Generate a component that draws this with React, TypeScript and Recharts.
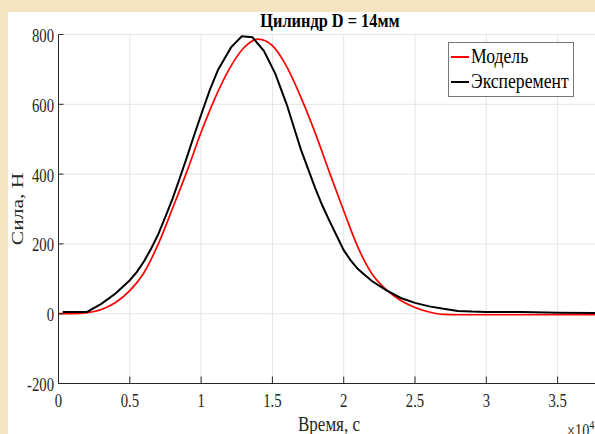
import { CartesianGrid, Legend, Line, LineChart, XAxis, YAxis } from "recharts";

// model curve (red)
const modelTime = [
  0, 0.1, 0.2, 0.3, 0.4, 0.5, 0.6, 0.7, 0.8, 0.9, 1.0, 1.1, 1.2, 1.3, 1.4,
  1.5, 1.6, 1.7, 1.8, 1.9, 2.0, 2.1, 2.2, 2.3, 2.4, 2.5, 2.6, 2.7, 2.8, 3.0,
  3.2, 3.4, 3.6, 3.8,
];
const modelForce = [
  0, 0, 3, 12, 32, 66, 118, 200, 302, 407, 520, 620, 703, 762, 787, 768, 708,
  620, 518, 405, 295, 190, 113, 68, 38, 18, 5, -2, -3, -3, -3, -3, -3, -3,
];

// experiment (black)
const expTime = [
  0.03, 0.2, 0.3, 0.4, 0.5, 0.55, 0.6, 0.65, 0.7, 0.75, 0.8, 0.85, 0.9, 0.95,
  1.0, 1.06, 1.12, 1.21, 1.285, 1.36, 1.44, 1.52, 1.6, 1.65, 1.7, 1.75, 1.8,
  1.85, 1.9, 1.95, 2.0, 2.05, 2.1, 2.15, 2.2, 2.3, 2.4, 2.5, 2.6, 2.7, 2.8,
  2.9, 3.0, 3.25, 3.5, 3.8,
];
const expForce = [
  5, 5, 28, 58, 96, 120, 150, 187, 228, 278, 330, 388, 448, 510, 570, 640, 700,
  763, 795, 792, 753, 688, 600, 535, 470, 415, 360, 310, 266, 224, 182, 152,
  128, 110, 93, 67, 45, 31, 21, 14, 8, 6, 5, 5, 3, 2,
];

const xTicks = [0, 0.5, 1, 1.5, 2, 2.5, 3, 3.5];
const yTicks = [-200, 0, 200, 400, 600, 800];

const modelData = modelTime.map((t, i) => ({ t, f: modelForce[i] }));
const expData = expTime.map((t, i) => ({ t, f: expForce[i] }));

const FONT = "'Liberation Serif', 'Times New Roman', serif";
const INK = "#262626";

function BottomTick({ x, y, payload }: any) {
  return (
    <g>
      <line x1={x} x2={x} y1={y} y2={y - 7} stroke={INK} />
      <text
        transform={`translate(${x},${y + 23.5}) scale(0.79,1)`}
        textAnchor="middle"
        fontFamily={FONT}
        fontSize={18.6}
        fill={INK}
      >
        {payload.value}
      </text>
    </g>
  );
}

function TopTick({ x, y }: any) {
  return <line x1={x} x2={x} y1={y} y2={y + 7} stroke={INK} />;
}

function LeftTick({ x, y, payload }: any) {
  return (
    <g>
      <line x1={x} x2={x + 5} y1={y} y2={y} stroke={INK} />
      <text
        transform={`translate(${x - 4.5},${y + 7.5}) scale(0.79,1)`}
        textAnchor="end"
        fontFamily={FONT}
        fontSize={18.6}
        fill={INK}
      >
        {payload.value}
      </text>
    </g>
  );
}

function LegendBox({ payload }: any) {
  return (
    <div
      style={{
        position: "relative",
        width: 126,
        height: 55,
        boxSizing: "border-box",
        border: "1px solid #777",
        background: "#fff",
        fontFamily: FONT,
      }}
    >
      {(payload || []).map((p: any, i: number) => (
        <div
          key={p.value}
          style={{ position: "absolute", left: 2, top: 3 + i * 24.5, height: 22, width: 122 }}
        >
          <div
            style={{
              position: "absolute",
              left: 0,
              top: 10,
              width: 18,
              height: 2,
              background: p.color,
            }}
          />
          <div
            style={{
              position: "absolute",
              left: 20,
              top: -2,
              fontSize: 20.5,
              lineHeight: "24px",
              color: "#000",
              whiteSpace: "nowrap",
              transform: "scaleX(0.86)",
              transformOrigin: "left center",
            }}
          >
            {p.value}
          </div>
        </div>
      ))}
    </div>
  );
}

export default function App() {
  return (
    <div
      style={{
        position: "absolute",
        left: 0,
        top: 0,
        width: 595,
        height: 434,
        overflow: "hidden",
        background: "#f6e3c1",
      }}
    >
      {/* white figure panel */}
      <div
        style={{
          position: "absolute",
          left: 8,
          top: 12,
          width: 600,
          height: 430,
          background: "#fff",
        }}
      />
      <div style={{ position: "absolute", left: 0, top: 0 }}>
        <LineChart
          width={628}
          height={442}
          margin={{ top: 34.5, right: 27.6, left: 8, bottom: 0 }}
        >
          <CartesianGrid stroke="#e4e4e4" strokeWidth={1} />
          <XAxis
            dataKey="t"
            type="number"
            domain={[0, 3.8]}
            ticks={xTicks}
            height={58.5}
            axisLine={{ stroke: INK }}
            tickLine={false}
            tickSize={0}
            tickMargin={0}
            tick={<BottomTick />}
            allowDataOverflow
          />
          <XAxis
            xAxisId="top"
            orientation="top"
            dataKey="t"
            type="number"
            domain={[0, 3.8]}
            ticks={xTicks}
            height={0}
            axisLine={{ stroke: INK }}
            tickLine={false}
            tickSize={0}
            tickMargin={0}
            tick={<TopTick />}
            allowDataOverflow
          />
          <YAxis
            type="number"
            domain={[-200, 800]}
            ticks={yTicks}
            width={50.5}
            axisLine={{ stroke: INK }}
            tickLine={false}
            tickSize={0}
            tickMargin={0}
            tick={<LeftTick />}
            allowDataOverflow
          />
          <Legend
            layout="vertical"
            align="center"
            verticalAlign="middle"
            content={<LegendBox />}
            wrapperStyle={{ left: 448, top: 42, width: 126, height: 55 }}
          />
          <Line
            data={modelData}
            dataKey="f"
            name="Модель"
            type="monotone"
            stroke="#ff0000"
            strokeWidth={1.7}
            dot={false}
            isAnimationActive={false}
          />
          <Line
            data={expData}
            dataKey="f"
            name="Эксперемент"
            type="linear"
            stroke="#000000"
            strokeWidth={2}
            dot={false}
            isAnimationActive={false}
          />
          <text
            transform="translate(330,27) scale(0.86,1)"
            textAnchor="middle"
            fontFamily={FONT}
            fontWeight="bold"
            fontSize={19}
            fill="#000"
          >
            Цилиндр D = 14мм
          </text>
          <text
            transform="translate(329,431) scale(0.79,1)"
            textAnchor="middle"
            fontFamily={FONT}
            fontSize={21.5}
            fill={INK}
          >
            Время, с
          </text>
          <text
            transform="translate(22.5,209) scale(0.79,1) rotate(-90)"
            textAnchor="middle"
            fontFamily={FONT}
            fontSize={21.5}
            fill={INK}
          >
            Сила, Н
          </text>
          <text
            transform="translate(567,437) scale(0.79,1)"
            fontFamily={FONT}
            fontSize={18}
            fill={INK}
          >
            ×10<tspan dy={-8} fontSize={13}>4</tspan>
          </text>
        </LineChart>
      </div>
    </div>
  );
}
